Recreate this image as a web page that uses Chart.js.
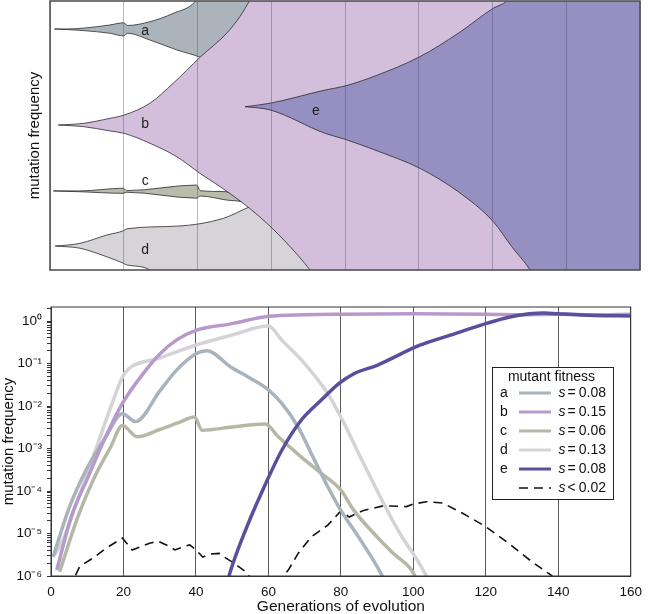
<!DOCTYPE html>
<html>
<head>
<meta charset="utf-8">
<title>Clonal interference</title>
<script src="https://cdn.jsdelivr.net/npm/chart.js@4.4.1/dist/chart.umd.min.js"></script>
<style>
  html, body { margin: 0; padding: 0; background: #fff; }
  #wrap { position: relative; width: 650px; height: 614px; overflow: hidden; }
  #mullerBox { position: absolute; left: 0; top: 0; width: 650px; height: 275px; }
  #freqBox { position: absolute; left: 0; top: 280px; width: 650px; height: 334px; }
</style>
</head>
<body>
<div id="wrap">
  <div id="mullerBox"><canvas id="mullerChart"></canvas></div>
  <div id="freqBox"><canvas id="freqChart"></canvas></div>
</div>
<script>
// ---- Muller plot outlines: [generation, cumulative frequency] (upper / lower edge of each clone)
const mullerA_top = [[1.2,0.896],[4.5,0.896],[9,0.899],[16.3,0.911],[20,0.919],[21,0.909],[27.1,0.923],[33.4,0.954],[39.3,0.997],[40.3,1.02],[56,1.02]];
const mullerA_bottom = [[1.2,0.896],[4.5,0.894],[9,0.890],[16.3,0.880],[20,0.870],[21,0.880],[27.1,0.855],[34.4,0.818],[40.7,0.791],[48,0.74],[56,0.72]];

const mullerB_top = [[2.25,0.539],[9,0.545],[16.3,0.564],[20.1,0.576],[27.1,0.620],[33.4,0.694],[40.7,0.791],[47.9,0.880],[51.5,0.942],[54.1,1.0],[55,1.02],[160,1.02]];
const mullerB_bottom = [[2.25,0.539],[9,0.533],[16.3,0.517],[20.1,0.508],[27.1,0.471],[34.4,0.421],[40.7,0.359],[46.1,0.310],[52.4,0.248],[58.8,0.174],[65.1,0.087],[70.5,0],[71.5,-0.02],[160,-0.02]];

const mullerC_top = [[0.9,0.294],[8.1,0.294],[19.9,0.304],[20.8,0.295],[39.8,0.316],[40.7,0.295],[47.9,0.291],[52.4,0.252],[54,0.24]];
const mullerC_bottom = [[0.9,0.294],[8.1,0.291],[19.9,0.285],[20.8,0.289],[39.8,0.267],[40.7,0.275],[47.9,0.260],[52.4,0.252],[54,0.24]];

const mullerD_top = [[1.4,0.089],[8.1,0.099],[15.4,0.130],[19.9,0.146],[20.8,0.153],[34.4,0.163],[47,0.192],[54.2,0.235],[60,0.26],[72,0.27]];
const mullerD_bottom = [[1.4,0.089],[8.1,0.081],[15.4,0.049],[19.9,0.025],[20.8,0.019],[27.1,0],[28,-0.02],[72,-0.02]];

const mullerE_top = [[52.9,0.607],[59.7,0.620],[74.6,0.669],[80,0.684],[88.1,0.721],[100.3,0.793],[110.7,0.880],[120.2,0.973],[123.9,1.0],[125,1.02],[160,1.02]];
const mullerE_bottom = [[52.9,0.607],[59.7,0.595],[74.6,0.508],[80,0.486],[88.1,0.446],[100.3,0.378],[110.7,0.291],[120.2,0.180],[125.2,0.087],[130.2,0],[131,-0.02],[160,-0.02]];

// ---- mutation frequency over time: [generation, frequency]
const seriesA = [[0.6,2.8e-6],[5,4.0e-5],[10,3.5e-4],[15,1.8e-3],[19.7,6.6e-3],[23.3,4.3e-3],[30.1,2.3e-2],[34.6,6.9e-2],[40,0.17],[43,0.20],[49.6,8.3e-2],[55,4.5e-2],[60,2.4e-2],[63.7,1.15e-2],[68.2,3.2e-3],[72.7,5.4e-4],[76.4,1.26e-4],[80,3.5e-5],[85.4,7.1e-6],[91.3,1.05e-6],[93,5e-7]];
const seriesB = [[1.6,1.38e-6],[5.6,2.5e-5],[10.2,2.1e-4],[14.7,1.6e-3],[19.7,1.15e-2],[24.7,4.8e-2],[30.1,0.17],[34.6,0.355],[40,0.60],[50,0.87],[60,1.29],[70,1.41],[80,1.45],[100,1.48],[120,1.45],[130,1.41],[140,1.45],[150,1.41],[160,1.45]];
const seriesC = [[2.4,1.26e-6],[7.4,2.45e-5],[12,2.1e-4],[16.5,1.1e-3],[19.7,3.5e-3],[23.8,1.9e-3],[30,2.8e-3],[35,4.0e-3],[39.6,5.5e-3],[41.7,2.7e-3],[50,3.2e-3],[59.1,3.8e-3],[62.8,1.86e-3],[69.1,6.3e-4],[74.6,2.6e-4],[80,1.05e-4],[83.6,3.5e-5],[89.1,1.0e-5],[94.5,3.4e-6],[99.5,1.38e-6],[101,8e-7]];
const seriesD = [[1,3.2e-6],[2.9,5.9e-6],[7.4,6.2e-5],[12,7.8e-4],[16.5,9.5e-3],[19.7,4.8e-2],[21.5,7.6e-2],[30,0.135],[40.5,0.28],[50,0.47],[60,0.76],[63.7,0.355],[70,0.1],[76.4,1.95e-2],[80.9,3.9e-3],[85.4,6.3e-4],[90.9,7.2e-5],[96.3,1.0e-5],[101.3,2.2e-6],[103.6,1.0e-6],[105,6e-7]];
const seriesE = [[48.5,6e-7],[49.2,1.05e-6],[54,1.4e-5],[58.2,9.5e-5],[63.7,9.1e-4],[69.1,4.7e-3],[74.6,1.38e-2],[79.5,3.4e-2],[83.6,5.75e-2],[90,9.1e-2],[101.8,0.27],[110,0.46],[120,0.87],[126.3,1.23],[132,1.48],[136,1.55],[140,1.48],[150,1.35],[160,1.32]];
const seriesNeutral = [[5,5e-7],[7.9,1.66e-6],[12,2.8e-6],[15.2,4.5e-6],[19.7,7.8e-6],[22.4,4.1e-6],[24.7,4.9e-6],[27.4,6.0e-6],[29.7,6.5e-6],[32.8,4.9e-6],[34.2,4.1e-6],[36.5,4.9e-6],[38.3,5.4e-6],[40,4.1e-6],[41.9,2.8e-6],[44,3.3e-6],[46.4,3.4e-6],[47.8,2.8e-6],[50.5,2.0e-6],[53.7,1.26e-6],[59.5,3.2e-7],[65.5,1.38e-6],[68.2,3.4e-6],[71.8,8.3e-6],[76.4,1.58e-5],[80,3.4e-5],[82.3,2.45e-5],[86.3,3.5e-5],[91.8,4.5e-5],[98.1,4.3e-5],[99.8,4.9e-5],[103.6,5.6e-5],[108.1,5.2e-5],[113.6,3.0e-5],[120,1.45e-5],[126.3,5.9e-6],[132.6,2.2e-6],[138,1.05e-6],[141,6.3e-7]];

// ---- axis / legend text
const xTicks = [0, 20, 40, 60, 80, 100, 120, 140, 160];
const yDecades = [1e-6, 1e-5, 1e-4, 1e-3, 1e-2, 1e-1, 1];
const yDecadeLabels = ['10⁻⁶', '10⁻⁵', '10⁻⁴', '10⁻³', '10⁻²', '10⁻¹', '10⁰'];
const legendKeys = ['a', 'b', 'c', 'd', 'e', 'neutral'];
const legendLetters = ['a', 'b', 'c', 'd', 'e', ''];
const legendFitness = ['= 0.08', '= 0.15', '= 0.06', '= 0.13', '= 0.08', '< 0.02'];

const FONT = "'Liberation Sans', Arial, Helvetica, sans-serif";
Chart.defaults.font.family = FONT;
Chart.defaults.color = '#111';

const toXY = pts => pts.map(p => ({ x: p[0], y: p[1] }));

// box round the plot area
const frameBox = {
  id: 'frameBox',
  afterDraw(chart, args, opts) {
    const { ctx, chartArea: { left, top, right, bottom } } = chart;
    ctx.save();
    ctx.strokeStyle = opts.color || '#333';
    ctx.lineWidth = opts.width || 1;
    ctx.strokeRect(left, top, right - left, bottom - top);
    ctx.restore();
  }
};

// clone letters written inside the Muller plot
const cloneLetters = {
  id: 'cloneLetters',
  afterDatasetsDraw(chart, args, opts) {
    const { ctx, scales: { x, y } } = chart;
    ctx.save();
    ctx.font = '14px ' + FONT;
    ctx.fillStyle = '#222';
    ctx.textAlign = 'center';
    ctx.textBaseline = 'middle';
    (opts.items || []).forEach(it => {
      ctx.fillText(it.text, x.getPixelForValue(it.gen), y.getPixelForValue(it.freq));
    });
    ctx.restore();
  }
};

// "mutant fitness" legend box
const fitnessLegend = {
  id: 'fitnessLegend',
  afterDatasetsDraw(chart, args, opts) {
    const { ctx } = chart;
    const x0 = opts.left, y0 = opts.top, w = opts.width, h = opts.height;
    ctx.save();
    ctx.fillStyle = '#fff';
    ctx.fillRect(x0, y0, w, h);
    ctx.strokeStyle = '#222';
    ctx.lineWidth = 1;
    ctx.strokeRect(x0 + 0.5, y0 + 0.5, w, h);

    ctx.fillStyle = '#111';
    ctx.font = '14px ' + FONT;
    ctx.textBaseline = 'middle';
    ctx.textAlign = 'center';
    ctx.fillText(opts.title, x0 + w / 2 - 1, y0 + 10);

    legendKeys.forEach((key, i) => {
      const ds = chart.data.datasets.find(d => d.key === key);
      if (!ds) return;
      const yy = y0 + 26 + i * 19;
      ctx.fillStyle = '#111';
      ctx.font = '14px ' + FONT;
      ctx.textAlign = 'left';
      ctx.fillText(legendLetters[i], x0 + 8, yy);

      ctx.beginPath();
      ctx.strokeStyle = ds.borderColor;
      ctx.lineWidth = ds.borderDash ? 1.6 : 3;
      ctx.setLineDash(ds.borderDash || []);
      ctx.moveTo(x0 + 27, yy);
      ctx.lineTo(x0 + 59, yy);
      ctx.stroke();
      ctx.setLineDash([]);

      const xr = x0 + w - 7;
      const parts = legendFitness[i].split(' ');
      ctx.textAlign = 'right';
      ctx.fillText(parts[1], xr, yy);
      const numW = ctx.measureText(parts[1]).width;
      ctx.fillText(parts[0], xr - numW - 3, yy);
      const symW = ctx.measureText(parts[0]).width;
      ctx.font = 'italic 14px ' + FONT;
      ctx.fillText('s', xr - numW - symW - 5, yy);
    });
    ctx.restore();
  }
};

// ---------------- top: Muller plot ----------------
const clones = [
  { key: 'e', top: mullerE_top, bottom: mullerE_bottom, color: '#968fc1', order: 0 },
  { key: 'b', top: mullerB_top, bottom: mullerB_bottom, color: '#d3bfdc', order: 1 },
  { key: 'a', top: mullerA_top, bottom: mullerA_bottom, color: '#acb4bb', order: 2 },
  { key: 'c', top: mullerC_top, bottom: mullerC_bottom, color: '#b9bbab', order: 2 },
  { key: 'd', top: mullerD_top, bottom: mullerD_bottom, color: '#d6d3d9', order: 2 }
];

const mullerSets = [];
clones.forEach(c => {
  mullerSets.push({
    label: c.key + ' lower', data: toXY(c.bottom), order: c.order,
    borderColor: '#2b2b2b', borderWidth: 0.8, pointRadius: 0, fill: false,
    cubicInterpolationMode: 'monotone'
  });
  mullerSets.push({
    label: c.key + ' upper', data: toXY(c.top), order: c.order,
    borderColor: '#2b2b2b', borderWidth: 0.8, pointRadius: 0,
    fill: '-1', backgroundColor: c.color,
    cubicInterpolationMode: 'monotone'
  });
});

new Chart(document.getElementById('mullerChart'), {
  type: 'line',
  data: { datasets: mullerSets },
  options: {
    responsive: true,
    maintainAspectRatio: false,
    animation: false,
    events: [],
    layout: { padding: { left: 0, right: 10, top: 1, bottom: 5 } },
    scales: {
      x: {
        type: 'linear', min: 0, max: 160,
        afterBuildTicks: s => { s.ticks = xTicks.map(v => ({ value: v })); },
        afterFit: s => { s.height = 0; },
        ticks: { display: false },
        border: { display: false },
        grid: { z: 1, drawTicks: false, color: 'rgba(70,70,110,0.38)', lineWidth: 1 }
      },
      y: {
        type: 'linear', min: 0, max: 1,
        afterFit: s => { s.width = 50; },
        ticks: { display: false },
        border: { display: false },
        grid: { display: false },
        title: {
          display: true, text: 'mutation frequency', color: '#111',
          font: { size: 15 }, padding: { top: 26, bottom: 0 }
        }
      }
    },
    plugins: {
      legend: { display: false },
      tooltip: { enabled: false },
      frameBox: { color: '#4a4a4a', width: 1.5 },
      cloneLetters: {
        items: [
          { text: 'a', gen: 25.8, freq: 0.889 },
          { text: 'b', gen: 25.8, freq: 0.543 },
          { text: 'c', gen: 25.8, freq: 0.331 },
          { text: 'd', gen: 25.8, freq: 0.074 },
          { text: 'e', gen: 72.1, freq: 0.591 }
        ]
      }
    }
  },
  plugins: [frameBox, cloneLetters]
});

// ---------------- bottom: frequency trajectories ----------------
const lineSets = [
  { key: 'e', pts: seriesE, color: '#5a4f9d' },
  { key: 'b', pts: seriesB, color: '#b899cb' },
  { key: 'a', pts: seriesA, color: '#a9b3bb' },
  { key: 'c', pts: seriesC, color: '#b6b8a6' },
  { key: 'd', pts: seriesD, color: '#d5d3d8' },
  { key: 'neutral', pts: seriesNeutral, color: '#111', dash: [9, 6] }
].map(s => ({
  key: s.key,
  label: s.key,
  data: toXY(s.pts),
  borderColor: s.color,
  borderWidth: s.dash ? 1.6 : 3.5,
  borderDash: s.dash,
  pointRadius: 0,
  fill: false,
  tension: 0,
  cubicInterpolationMode: s.dash ? 'default' : 'monotone'
}));

const minorTicks = [];
yDecades.forEach(d => {
  for (let m = 1; m <= 9; m++) {
    if (d * m <= 2.1) minorTicks.push(d * m);
  }
});

new Chart(document.getElementById('freqChart'), {
  type: 'line',
  data: { datasets: lineSets },
  options: {
    responsive: true,
    maintainAspectRatio: false,
    animation: false,
    events: [],
    layout: { padding: { left: 0, right: 11, top: 27, bottom: 0 } },
    scales: {
      x: {
        type: 'linear', min: 0, max: 160,
        afterBuildTicks: s => { s.ticks = xTicks.map(v => ({ value: v })); },
        afterFit: s => { s.height = 38; },
        ticks: { color: '#111', font: { size: 13.5 }, padding: 8, maxRotation: 0 },
        border: { display: true, color: '#333' },
        grid: { drawTicks: false, color: '#5c5c5c', lineWidth: 1 },
        title: {
          display: true, text: 'Generations of evolution', color: '#111',
          font: { size: 15.5 }, padding: { top: 0, bottom: -2 }
        }
      },
      y: {
        type: 'logarithmic', min: 1e-6, max: 2.14,
        afterBuildTicks: s => { s.ticks = minorTicks.map(v => ({ value: v })); },
        afterFit: s => { s.width = 51; },
        ticks: {
          autoSkip: false, color: '#111', font: { size: 13.5 }, padding: 5,
          callback: value => {
            const i = yDecades.findIndex(d => Math.abs(Math.log10(d) - Math.log10(value)) < 1e-6);
            return i >= 0 ? yDecadeLabels[i] : '';
          }
        },
        border: { display: true, color: '#333' },
        grid: { drawOnChartArea: false, drawTicks: true, tickLength: 4, color: '#333' },
        title: {
          display: true, text: 'mutation frequency', color: '#111',
          font: { size: 15 }, padding: { top: 0, bottom: 0 }
        }
      }
    },
    plugins: {
      legend: { display: false },
      tooltip: { enabled: false },
      frameBox: { color: '#333', width: 1 },
      fitnessLegend: { title: 'mutant fitness', left: 492, top: 87, width: 121, height: 132 }
    }
  },
  plugins: [frameBox, fitnessLegend]
});
</script>
</body>
</html>
